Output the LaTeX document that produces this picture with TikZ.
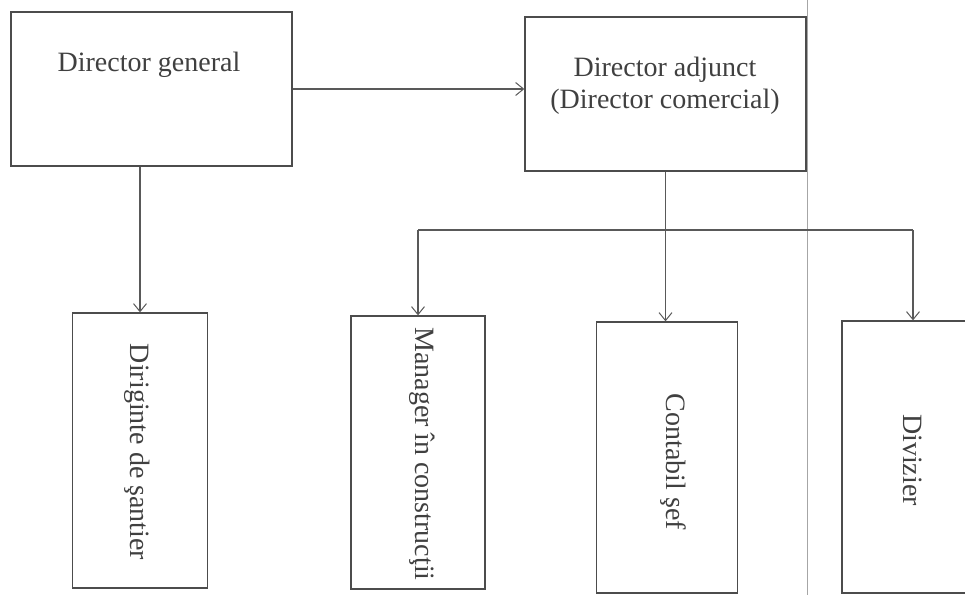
\documentclass[tikz,border=0pt]{standalone}
\usepackage{fontspec}
\setmainfont{Liberation Serif}
\usetikzlibrary{arrows.meta}
\begin{document}
\begin{tikzpicture}[x=1pt,y=-1pt,
  box/.style={draw=black!70, line width=1.3pt, inner sep=0pt},
  txt/.style={text=black!75, font=\fontsize{28}{32}\selectfont, inner sep=0pt, align=center},
  vtxt/.style={txt, rotate=-90},
  conn/.style={draw=black!65, line width=1.1pt},
  arr/.style={conn, -{Straight Barb[length=8pt,width=13pt,line width=1pt]}}]
\useasboundingbox (0,0) rectangle (965,595);
\clip (0,0) rectangle (965,595);
% boxes
\node[box, minimum width=281pt, minimum height=154pt] (dg) at (151.5,89) {};
\node[box, minimum width=281pt, minimum height=154pt] (da) at (665.5,94) {};
\node[box, minimum width=135pt, minimum height=275pt] (dir) at (140,450.5) {};
\node[box, minimum width=134pt, minimum height=273pt] (mgr) at (418,452.5) {};
\node[box, minimum width=141pt, minimum height=271pt] (cont) at (667,457.5) {};
\node[box, minimum width=142pt, minimum height=272pt] (div) at (913,457) {};
% texts
\node[txt] (dgt) at (149,65) {Director general};
\node[txt] (dat) at (665,86) {Director adjunct\\(Director comercial)};
\node[vtxt] (dirt) at (137,452) {Diriginte de şantier};
\node[vtxt] (mgrt) at (422,454) {Manager în construcţii};
\node[vtxt] (contt) at (673,462) {Contabil şef};
\node[vtxt] (divt) at (913,460) {Divizier};
% scan fold line
\coordinate (f1) at (807,0);
\coordinate (f2) at (807,595);
\draw[black!35, line width=0.6pt] (f1) -- (f2);
% connectors
\coordinate (bus) at (0,230);
\draw[arr] (dg.east) -- (dg.east -| da.west);
\draw[arr] (dg.south -| dir.north) -- (dir.north);
\draw[arr] (da.south) -- (da.south |- cont.north);
\draw[conn] (mgr.north |- bus) -- (div.north |- bus);
\draw[arr] (mgr.north |- bus) -- (mgr.north);
\draw[arr] (div.north |- bus) -- (div.north);
\end{tikzpicture}
\end{document}
